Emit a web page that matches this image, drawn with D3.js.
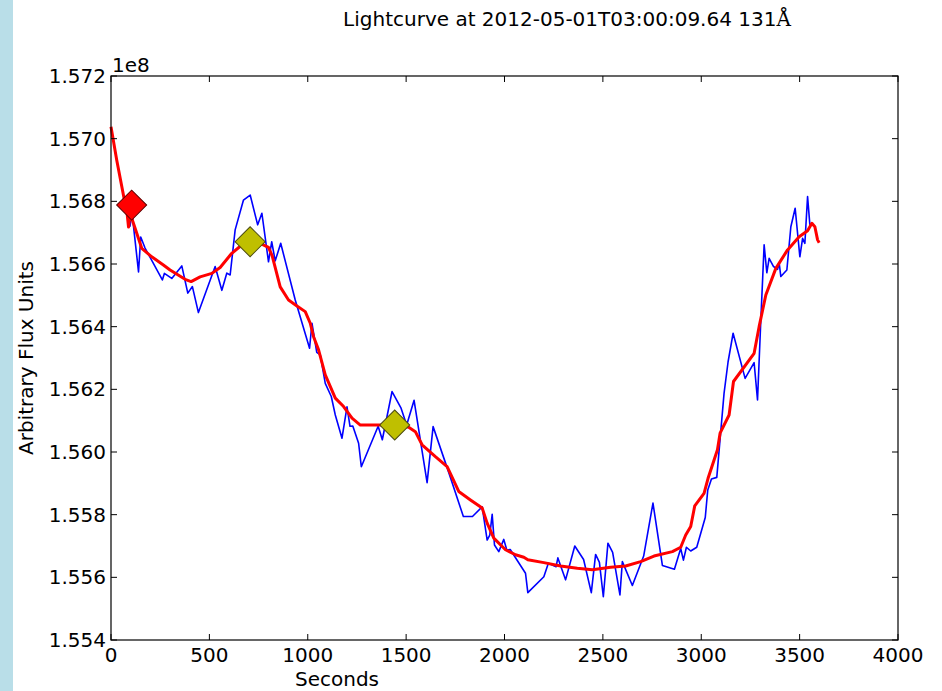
<!DOCTYPE html>
<html>
<head>
<meta charset="utf-8">
<script src="https://cdn.jsdelivr.net/npm/d3@7"></script>
<style>
  html, body { margin: 0; padding: 0; background: #fff; }
  svg { display: block; font-family: "DejaVu Sans", sans-serif; }
</style>
</head>
<body>
<div id="chart"></div>
<script>
// Lightcurve (flux in units of 1e8), raw samples
const rawTimes = [86.5, 96.7, 106.9, 139.9, 151.1, 173, 261, 271.3, 308.9, 359.8, 390.3, 413.7, 444.3,
  529.3, 563.4, 588.8, 605.6, 631, 673.3, 707.4, 745.5, 766.9, 800.5, 816.8, 834.6, 862.6, 936.4,
  1009.2, 1021.4, 1045.8, 1063.6, 1089, 1119.6, 1140, 1174, 1199.5, 1214.8, 1229, 1258.5, 1272.3,
  1357.8, 1379, 1428.5, 1474.3, 1502.8, 1540.4, 1606.6, 1637.1, 1716.5, 1790.9, 1837.1, 1886.5,
  1911.9, 1925.2, 1937.4, 1949.1, 1971, 1996.4, 2011.7, 2029, 2106.8, 2118.6, 2200, 2222.9, 2262.1,
  2271.3, 2310.4, 2357.2, 2402, 2441.2, 2463.1, 2482.4, 2502.3, 2525.7, 2549.6, 2586.7, 2599,
  2649.8, 2707.3, 2754.6, 2802.5, 2863.6, 2895.6, 2909.4, 2924.6, 2946.5, 2977.1, 3020.4, 3033.1,
  3051.9, 3078.9, 3116, 3136.4, 3161.9, 3222.9, 3268.7, 3286, 3302.8, 3319.6, 3333.3, 3345, 3367.4,
  3387.8, 3395.9, 3404.5, 3435.1, 3455.4, 3477.3, 3501.2, 3515, 3526.7, 3540.4, 3552.1];
const rawFlux = [1.56785, 1.56721, 1.56763, 1.56575, 1.56686, 1.56651, 1.56549, 1.56570, 1.56554, 1.56594, 1.56507, 1.56528, 1.56445,
  1.56592, 1.56516, 1.56571, 1.56565, 1.56709, 1.56804, 1.56820, 1.56725, 1.56762, 1.56607, 1.56671, 1.56610, 1.56666, 1.56485,
  1.56331, 1.56411, 1.56318, 1.56310, 1.56219, 1.56177, 1.56118, 1.56044, 1.56144, 1.56082, 1.56083, 1.56028, 1.55953,
  1.56082, 1.56039, 1.56193, 1.56140, 1.56086, 1.56165, 1.55902, 1.56081, 1.55935, 1.55794, 1.55794, 1.55825,
  1.55719, 1.55735, 1.55801, 1.55703, 1.55682, 1.55721, 1.55687, 1.55689, 1.55613, 1.55551, 1.55602, 1.55645, 1.55634,
  1.55662, 1.55592, 1.55700, 1.55657, 1.55551, 1.55673, 1.55648, 1.55538, 1.55709, 1.55680, 1.55544, 1.55650,
  1.55574, 1.55668, 1.55837, 1.55638, 1.55626, 1.55692, 1.55655, 1.55696, 1.55684, 1.55696, 1.55791, 1.55879,
  1.55914, 1.55919, 1.56188, 1.56288, 1.56379, 1.56235, 1.56285, 1.56166, 1.56421, 1.56661, 1.56572, 1.56618, 1.56592,
  1.56583, 1.56604, 1.56560, 1.56581, 1.56719, 1.56778, 1.56623, 1.56682, 1.56666, 1.56815, 1.56725];

// Smoothed lightcurve
const smoothTimes = [0, 29, 71.2, 78.9, 89.1, 96.7, 122.1, 156.2, 207.1, 266.2, 300.3, 376.6, 407.1, 452.9,
  512.5, 554.7, 610.7, 661.6, 707.4, 758.3, 800.5, 819.3, 860, 902.3, 945, 987.3, 1012.7, 1029.5, 1055,
  1089, 1140, 1182.2, 1225, 1267.2, 1369, 1470.7, 1513, 1547, 1581.2, 1648.8, 1708.4, 1767.4, 1827,
  1886.5, 1911.9, 1945.5, 2005.1, 2056, 2098.2, 2118.6, 2200, 2285, 2370, 2446.3, 2539.4, 2615.7, 2692,
  2759.8, 2853.4, 2895.6, 2921, 2946.5, 2966.9, 3014.2, 3034.6, 3082.4, 3095.7, 3141.5, 3163.9, 3268.7,
  3294.1, 3328.2, 3379.1, 3438.6, 3497.6, 3540.4, 3562.3, 3577.5, 3591.3, 3599.4];
const smoothFlux = [1.57038, 1.56932, 1.56794, 1.56779, 1.56718, 1.56763, 1.56715, 1.56650, 1.56623, 1.56597, 1.56581, 1.56551, 1.56544, 1.56559,
  1.56570, 1.56589, 1.56632, 1.56659, 1.56671, 1.56666, 1.56653, 1.56626, 1.56527, 1.56485, 1.56466, 1.56448, 1.56411, 1.56368, 1.56326,
  1.56246, 1.56172, 1.56145, 1.56108, 1.56086, 1.56086, 1.56086, 1.56079, 1.56065, 1.56023, 1.55985, 1.55953, 1.55874, 1.55847,
  1.55821, 1.55773, 1.55725, 1.55688, 1.55672, 1.55664, 1.55656, 1.55647, 1.55636, 1.55629, 1.55624, 1.55632, 1.55636, 1.55650,
  1.55668, 1.55682, 1.55696, 1.55735, 1.55762, 1.55828, 1.55868, 1.55916, 1.56007, 1.56060, 1.56118, 1.56225, 1.56315,
  1.56400, 1.56501, 1.56586, 1.56645, 1.56687, 1.56706, 1.56730, 1.56719, 1.56677, 1.56668];

// Marked points: start (red) and detected peaks (yellow)
const startTimes = [105];
const startFlux = [1.56788];
const peakTimes = [707, 1442];
const peakFlux = [1.56671, 1.56086];

const xTicks = [0, 500, 1000, 1500, 2000, 2500, 3000, 3500, 4000];
const yTicks = [1.554, 1.556, 1.558, 1.560, 1.562, 1.564, 1.566, 1.568, 1.570, 1.572];

const W = 942, H = 691;
const margin = { left: 111, right: 898, top: 76, bottom: 640 };

const svg = d3.select("#chart").append("svg")
    .attr("width", W)
    .attr("height", H);

// light blue strip at the left edge
svg.append("rect")
    .attr("x", 0).attr("y", 0)
    .attr("width", 13).attr("height", H)
    .attr("fill", "#b9dee8");

const x = d3.scaleLinear().domain([0, 4000]).range([margin.left, margin.right]);
const y = d3.scaleLinear().domain([1.554, 1.572]).range([margin.bottom, margin.top]);

const line = d3.line()
    .x(d => x(d[0]))
    .y(d => y(d[1]));

const raw = rawTimes.map((t, i) => [t, rawFlux[i]]);
const smooth = smoothTimes.map((t, i) => [t, smoothFlux[i]]);

svg.append("path")
    .datum(raw)
    .attr("d", line)
    .attr("fill", "none")
    .attr("stroke", "#0000ff")
    .attr("stroke-width", 1.6)
    .attr("stroke-linejoin", "round");

svg.append("path")
    .datum(smooth)
    .attr("d", line)
    .attr("fill", "none")
    .attr("stroke", "#ff0000")
    .attr("stroke-width", 3)
    .attr("stroke-linejoin", "round");

// diamond markers
const diamond = d3.symbol().type(d3.symbolSquare).size(450);

function drawMarkers(times, flux, fill, edge) {
    svg.append("g")
        .selectAll("path")
        .data(times.map((t, i) => [t, flux[i]]))
        .join("path")
        .attr("d", diamond)
        .attr("transform", d => "translate(" + x(d[0]) + "," + y(d[1]) + ") rotate(45)")
        .attr("fill", fill)
        .attr("stroke", edge)
        .attr("stroke-width", 1);
}
drawMarkers(startTimes, startFlux, "#ff0000", "#5a0000");
drawMarkers(peakTimes, peakFlux, "#bfbf00", "#4a4a10");

// frame
svg.append("rect")
    .attr("x", margin.left).attr("y", margin.top)
    .attr("width", margin.right - margin.left).attr("height", margin.bottom - margin.top)
    .attr("fill", "none")
    .attr("stroke", "#000")
    .attr("stroke-width", 1.2);

// inward ticks on all four sides
const tickLen = 6;
const tg = svg.append("g").attr("stroke", "#000").attr("stroke-width", 1);
xTicks.forEach(v => {
    tg.append("line").attr("x1", x(v)).attr("x2", x(v)).attr("y1", margin.bottom).attr("y2", margin.bottom - tickLen);
    tg.append("line").attr("x1", x(v)).attr("x2", x(v)).attr("y1", margin.top).attr("y2", margin.top + tickLen);
});
yTicks.forEach(v => {
    tg.append("line").attr("x1", margin.left).attr("x2", margin.left + tickLen).attr("y1", y(v)).attr("y2", y(v));
    tg.append("line").attr("x1", margin.right).attr("x2", margin.right - tickLen).attr("y1", y(v)).attr("y2", y(v));
});

// tick labels
svg.append("g")
    .selectAll("text")
    .data(xTicks)
    .join("text")
    .attr("x", d => x(d))
    .attr("y", margin.bottom + 22)
    .attr("text-anchor", "middle")
    .attr("font-size", 20)
    .attr("fill", "#000")
    .text(d => d);

svg.append("g")
    .selectAll("text")
    .data(yTicks)
    .join("text")
    .attr("x", margin.left - 5)
    .attr("y", d => y(d) + 7)
    .attr("text-anchor", "end")
    .attr("font-size", 20)
    .attr("fill", "#000")
    .text(d => d3.format(".3f")(d));

// offset text
svg.append("text")
    .attr("x", margin.left + 1)
    .attr("y", margin.top - 4)
    .attr("font-size", 20)
    .text("1e8");

// title
const title = svg.append("text")
    .attr("x", 567)
    .attr("y", 26)
    .attr("text-anchor", "middle")
    .attr("font-size", 20);
title.append("tspan").text("Lightcurve at 2012-05-01T03:00:09.64 131");
title.append("tspan").attr("font-family", "DejaVu Serif").text("Å");

// axis labels
svg.append("text")
    .attr("x", 337)
    .attr("y", 686)
    .attr("text-anchor", "middle")
    .attr("font-size", 20)
    .text("Seconds");

svg.append("text")
    .attr("transform", "translate(33," + ((margin.top + margin.bottom) / 2) + ") rotate(-90)")
    .attr("text-anchor", "middle")
    .attr("font-size", 20)
    .text("Arbitrary Flux Units");
</script>
</body>
</html>
